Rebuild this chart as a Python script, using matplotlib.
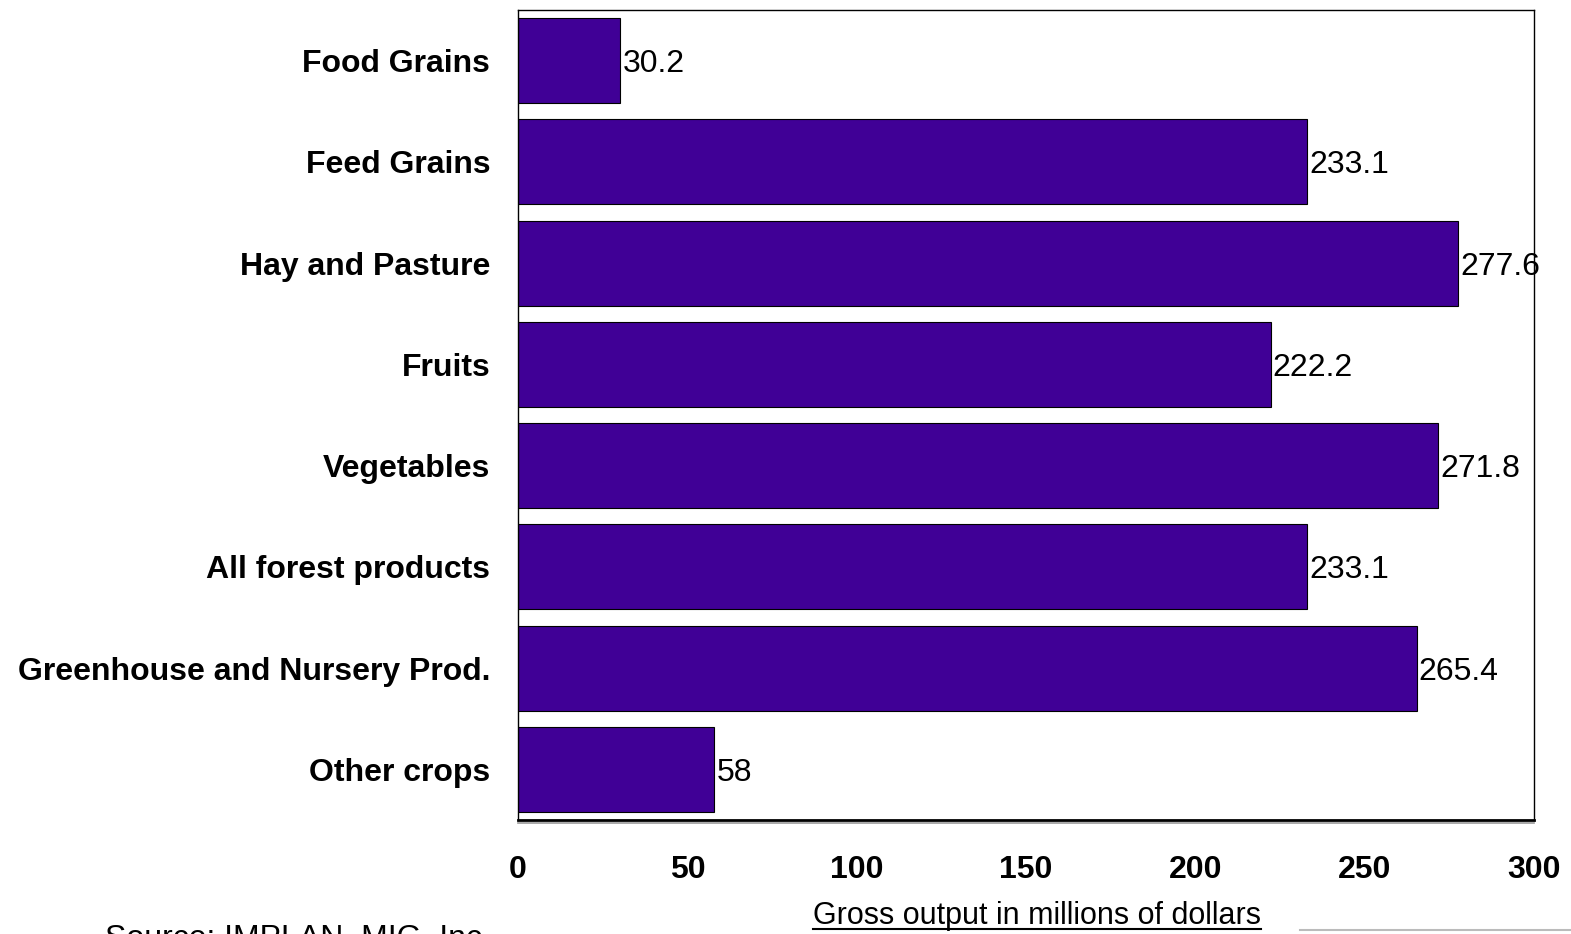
import numpy as np
import matplotlib.pyplot as plt
from matplotlib.lines import Line2D

plt.rcParams['font.family'] = ['Liberation Sans', 'DejaVu Sans']

# crop categories and gross output (millions of dollars)
categories = ['Food Grains', 'Feed Grains', 'Hay and Pasture', 'Fruits', 'Vegetables',
              'All forest products', 'Greenhouse and Nursery Prod.', 'Other crops']
values = [30.2, 233.1, 277.6, 222.2, 271.8, 233.1, 265.4, 58]
value_labels = ['30.2', '233.1', '277.6', '222.2', '271.8', '233.1', '265.4', '58']
x_ticks = [0, 50, 100, 150, 200, 250, 300]

fs = 23

fig = plt.figure(figsize=(15.71, 9.34), dpi=100)
ax = fig.add_axes([518/1571, 1 - 820/934, (1534-518)/1571, (820-10)/934])

y = np.arange(len(categories))
ax.barh(y, values, height=0.84, color='#400096', edgecolor='black', linewidth=0.8)
for yi, v, lab in zip(y, values, value_labels):
    ax.text(v + 0.6, yi, lab, va='center_baseline', ha='left', fontsize=fs)

ax.set_ylim(len(categories) - 0.5, -0.5)
ax.set_xlim(0, 300)
ax.set_yticks(y)
ax.set_yticklabels(categories, fontsize=fs, fontweight='bold')
ax.set_xticks(x_ticks)
ax.set_xticklabels([str(t) for t in x_ticks], fontsize=fs, fontweight='bold')
ax.tick_params(axis='both', length=0)
ax.tick_params(axis='y', pad=20)
ax.tick_params(axis='x', pad=25)
for s in ['top', 'right', 'left']:
    ax.spines[s].set_linewidth(1.0)
ax.spines['bottom'].set_linewidth(2.0)

# shadow line under the bottom axis
fig.add_artist(Line2D([518/1571, 1534/1571], [1 - 822.5/934, 1 - 822.5/934],
                      color='#999999', linewidth=1.2))

# underlined axis title
xl = fig.text(1037/1571, 1 - 916/934, 'Gross output in millions of dollars',
              ha='center', va='center', fontsize=22)
fig.canvas.draw()
bb = xl.get_window_extent().transformed(fig.transFigure.inverted())
fig.add_artist(Line2D([bb.x0, bb.x1], [bb.y0 + 0.002, bb.y0 + 0.002],
                      color='black', linewidth=1.5))

fig.text(105/1571, 1 - 924/934, 'Source: IMPLAN, MIG, Inc', ha='left', va='top', fontsize=fs)
fig.add_artist(Line2D([1300/1571, 1.0], [1 - 930/934, 1 - 930/934],
                      color='#bbbbbb', linewidth=1.5))

fig.savefig('out.png', dpi=100)
